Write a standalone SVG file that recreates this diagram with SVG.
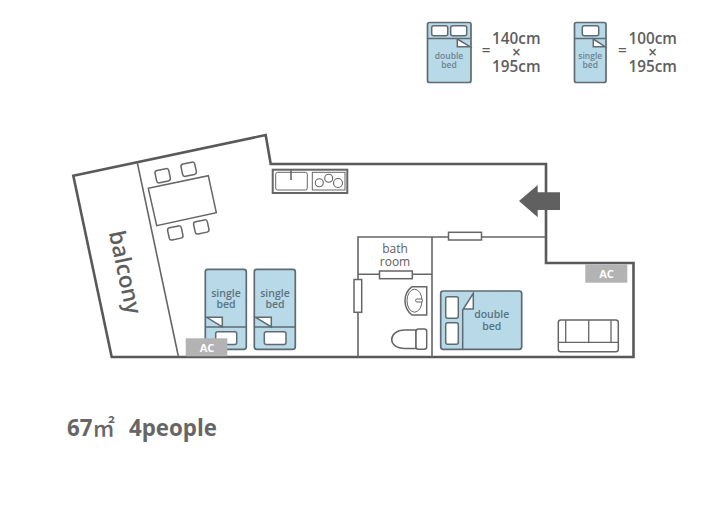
<svg xmlns="http://www.w3.org/2000/svg" width="720" height="509" viewBox="0 0 720 509">
<style>
text{font-family:"Open Sans","Liberation Sans",sans-serif;text-anchor:middle}
.wall{fill:none;stroke:#595959;stroke-width:2.6;stroke-linejoin:miter}
.thin{fill:none;stroke:#666;stroke-width:1.6}
.fx{fill:#fff;stroke:#666;stroke-width:1.5}
.bed{fill:#b8d9e7;stroke:#5f6b70;stroke-width:1.7}
.div{fill:none;stroke:#5f6b70;stroke-width:1.5}
.pil{fill:#fff;stroke:#5f6b70;stroke-width:1.5}
.bt{fill:#5c7280;font-weight:600;font-size:10.5px}
.bs{fill:#6d8290;font-weight:600;font-size:8.5px}
.lab{fill:#5e5e5e;font-weight:600;font-size:15.3px}
.ac{fill:#b3b3b3}
.act{fill:#fff;font-weight:700;font-size:11px}
</style>
<rect width="720" height="509" fill="#fff"/>
<g id="legend-double">
<rect class="bed" x="427.500" y="22.500" width="43.500" height="60" rx="2"/>
<path class="div" d="M428 38.500H470"/>
<rect class="pil" x="431.700" y="25.700" width="16" height="10" rx="2"/>
<rect class="pil" x="450.700" y="25.700" width="16" height="10" rx="2"/>
<path class="pil" d="M457.300 39L470 46.700H457.300Z"/>
<text class="bs"><tspan x="449" y="58.500">double</tspan><tspan x="449" y="67.500">bed</tspan></text>
<text class="lab" x="486" y="56">=</text>
<text class="lab"><tspan x="516.300" y="43.500">140cm</tspan><tspan x="516.300" y="57.500">×</tspan><tspan x="516.300" y="72">195cm</tspan></text>
</g>
<g id="legend-single">
<rect class="bed" x="574.500" y="22.500" width="31.500" height="60" rx="2"/>
<path class="div" d="M575 38.500H605"/>
<rect class="pil" x="582.300" y="25.700" width="16.400" height="10" rx="2"/>
<path class="pil" d="M593.300 39L605 46.700H593.300Z"/>
<text class="bs"><tspan x="590.300" y="58.500">single</tspan><tspan x="590.300" y="67.500">bed</tspan></text>
<text class="lab" x="622.300" y="56">=</text>
<text class="lab"><tspan x="652.700" y="43.500">100cm</tspan><tspan x="652.700" y="57.500">×</tspan><tspan x="652.700" y="72">195cm</tspan></text>
</g>
<g id="walls">
<path class="wall" d="M73.300 175.700L265.700 135L270.700 164H546V263H633.500V357H111.700Z"/>
<path class="thin" d="M137.300 162.700L178.300 356"/>
<path class="thin" d="M358 357V237H546M432 237V357M358 274.300H432"/>
</g>
<g id="balcony"><text transform="translate(124.500 272.500) rotate(78)" y="7" font-size="22.500" font-weight="600" fill="#5e5e5e">balcony</text></g>
<g id="dining">
<path class="fx" d="M148.300 188.300L208.300 175.700L216.300 212.700L156.700 225.700Z"/>
<rect class="fx" x="155.700" y="169.500" width="14" height="12.500" rx="2.500" transform="rotate(-12 162.700 175.700)"/>
<rect class="fx" x="181.700" y="163" width="14" height="12.500" rx="2.500" transform="rotate(-12 188.700 169.300)"/>
<rect class="fx" x="168.300" y="226.700" width="14" height="12.500" rx="2.500" transform="rotate(-12 175.300 233)"/>
<rect class="fx" x="194.300" y="220.700" width="14" height="12.500" rx="2.500" transform="rotate(-12 201.300 227)"/>
</g>
<g id="kitchen">
<rect class="fx" x="272.700" y="169.700" width="74.600" height="23.300" style="stroke-width:2"/>
<rect class="thin" x="275.700" y="172.300" width="31.600" height="17.700" rx="2" style="stroke-width:1"/>
<rect class="thin" x="312.300" y="172.300" width="32.700" height="17.700" style="stroke-width:1"/>
<path class="thin" d="M291 170V180"/>
<circle class="thin" cx="319.300" cy="182.700" r="4" style="stroke-width:1.100"/><circle class="thin" cx="328.700" cy="178.300" r="4" style="stroke-width:1.100"/><circle class="thin" cx="338" cy="183" r="4.500" style="stroke-width:1.100"/>
</g>
<g id="entrance"><path fill="#606060" d="M519 201L537.700 185V192.300H560V210H537.700V217.300Z"/></g>
<g id="single-bed-1">
<rect class="bed" x="205.300" y="269.300" width="41" height="80" rx="2.500"/>
<path class="div" d="M206 327H246"/>
<rect class="pil" x="215.700" y="331.700" width="21" height="12.800" rx="2"/>
<path class="pil" d="M206.700 317.300H222.300V327Z"/>
<text class="bt"><tspan x="226" y="296.500">single</tspan><tspan x="226" y="307.500">bed</tspan></text>
</g>
<g id="single-bed-2">
<rect class="bed" x="254.300" y="269.300" width="41" height="80" rx="2.500"/>
<path class="div" d="M255 327H295"/>
<rect class="pil" x="264.300" y="331.700" width="21.700" height="12.800" rx="2"/>
<path class="pil" d="M255.700 317.300H271.300V327Z"/>
<text class="bt"><tspan x="275" y="296.500">single</tspan><tspan x="275" y="307.500">bed</tspan></text>
</g>
<g id="ac-1"><rect class="ac" x="185.700" y="338.300" width="41.600" height="18"/><text class="act" x="207" y="352">AC</text></g>
<g id="ac-2"><rect class="ac" x="585.300" y="264.300" width="42" height="18.400"/><text class="act" x="606.500" y="278">AC</text></g>
<g id="bathroom">
<text font-size="12" font-weight="500" fill="#5e5e5e"><tspan x="395" y="253">bath</tspan><tspan x="395" y="266">room</tspan></text>
<rect class="fx" x="379.500" y="271" width="32.800" height="7.700"/>
<rect class="fx" x="354" y="279.500" width="7.700" height="32.800"/>
<path class="fx" d="M426.700 286.700H412Q405 292 405 300.700T412 315H426.700Z"/>
<ellipse class="fx" cx="414.500" cy="300.700" rx="7.500" ry="11.500" style="stroke-width:1"/>
<rect class="fx" x="415.500" y="299" width="7" height="3" rx="1.500" style="stroke-width:1"/>
<path class="fx" d="M416 330H405C396 330 391.700 335 391.700 339.500S396 348.500 405 348.500H416Z"/>
<rect class="fx" x="416" y="329" width="10.700" height="20.300" rx="2.500"/>
</g>
<g id="window-bedroom"><rect class="fx" x="448.500" y="232.300" width="33" height="7.700"/></g>
<g id="double-bed">
<rect class="bed" x="440.700" y="291" width="81" height="58.300" rx="2.500"/>
<path class="div" d="M462.700 309V349"/>
<rect class="pil" x="445.700" y="296.700" width="12.600" height="21.600" rx="2"/>
<rect class="pil" x="445.700" y="322.700" width="12.600" height="21.600" rx="2"/>
<path class="pil" d="M463.300 309H473.300V293.300Z"/>
<text class="bt"><tspan x="491.700" y="318">double</tspan><tspan x="491.700" y="329.500">bed</tspan></text>
</g>
<g id="sofa">
<rect class="fx" x="558.300" y="320" width="60" height="31.700" rx="2.500"/>
<path class="thin" d="M558.300 342.300H618.300M565.700 320V342.300M588.700 320V342.300M611 320V342.300" style="stroke-width:1.300"/>
</g>
<g id="caption">
<text x="67" y="436" style="text-anchor:start;font-family:'Open Sans','Noto Sans CJK JP',sans-serif" font-size="22.300" font-weight="700" fill="#666">67<tspan font-weight="500">㎡</tspan></text>
<text x="129" y="436" style="text-anchor:start" font-size="22.300" font-weight="700" fill="#666">4people</text>
</g>
</svg>
